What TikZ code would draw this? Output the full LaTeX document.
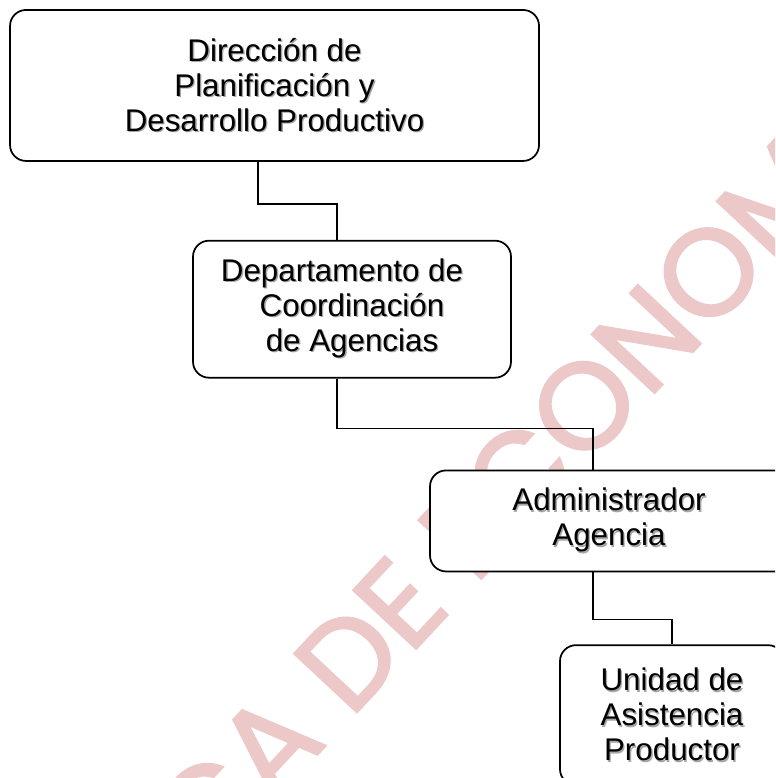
\documentclass[tikz,border=0pt]{standalone}
\usepackage{fontspec}
\setmainfont{Liberation Sans}
\newfontfamily\wmfont[FakeBold=2]{Poppins}
\usepackage{tikz}
\usetikzlibrary{positioning}
\definecolor{wmpink}{RGB}{236,200,200}
\newcommand{\shtext}[1]{\makebox[0pt][l]{\kern1pt\raisebox{-1pt}{\textcolor{black!35}{#1}}}#1}

\begin{document}
\begin{tikzpicture}[
  orgbox/.style={draw, line width=1.3pt, fill=white, rounded corners=12pt,
    inner sep=0pt, align=center, font=\fontsize{23.5}{26.25}\selectfont},
  link/.style={line width=1.1pt}]
\useasboundingbox (0,0) rectangle (581.25pt,583.5pt);
\clip (0,0) rectangle (581.25pt,583.5pt);
\node(wm)	[rotate=47, anchor=base west, text=wmpink,
  font=\wmfont\fontsize{92}{92}\selectfont] at (153pt,-73.5pt) {CA DE ECONOM};

\node(1)	[orgbox, minimum width=396.75pt, minimum height=113.25pt]
  at (205.9pt,519.4pt)
{\shtext{Dirección de}\\\shtext{Planificación y}\\\shtext{Desarrollo Productivo}};
\node(2)	[orgbox, minimum width=238.5pt, minimum height=102.75pt,
  below = 58.5pt of 1, xshift=58.1pt]
{\shtext{Departamento de}\hspace*{15pt}\\\shtext{Coordinación}\\\shtext{de Agencias}};
\node(3)	[orgbox, minimum width=276pt, minimum height=75.75pt,
  below = 68.25pt of 2, xshift=196.5pt]
{\shtext{Administrador}\hspace*{7.5pt}\\\shtext{Agencia}\hspace*{7.5pt}};
\node(4)	[orgbox, minimum width=168pt, minimum height=105pt,
  below = 54pt of 3, xshift=43.5pt]
{\shtext{Unidad de}\\\shtext{Asistencia}\\\shtext{Productor}};

\draw[link] ([xshift=-12.4pt]1.south) -- ++(0,-31.5pt) -| ([xshift=-11.25pt]2.north);
\draw[link] ([xshift=-11.25pt]2.south) -- ++(0,-37.5pt) -| ([xshift=-15.75pt]3.north);
\draw[link] ([xshift=-15.75pt]3.south) -- ++(0,-35.25pt) -| (4.north);
\end{tikzpicture}
\end{document}
